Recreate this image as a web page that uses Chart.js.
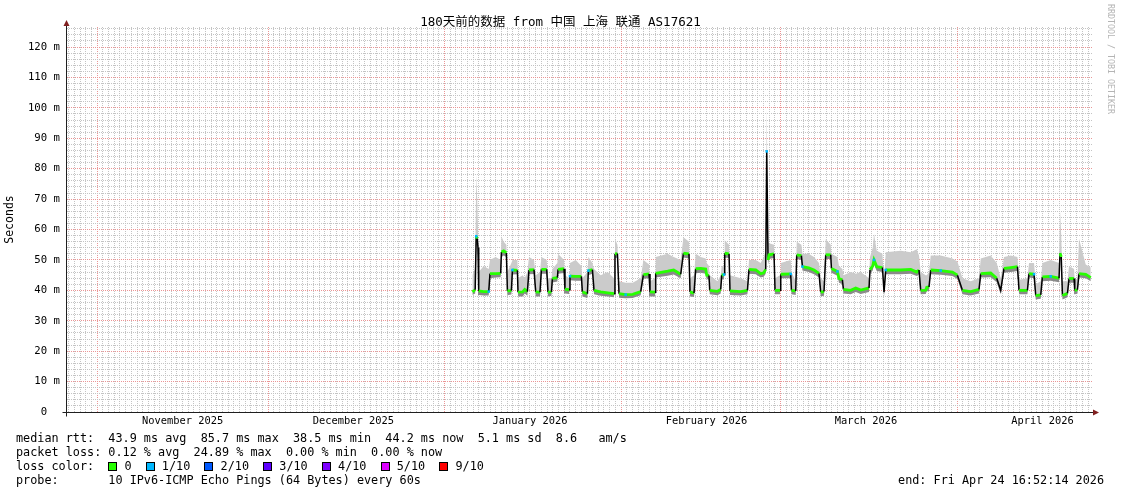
<!DOCTYPE html>
<html>
<head>
<meta charset="utf-8">
<script src="https://cdn.jsdelivr.net/npm/chart.js@4/dist/chart.umd.min.js"></script>
<style>
  html, body { margin: 0; padding: 0; background: #fff; }
  #wrap { position: relative; width: 1121px; height: 494px; overflow: hidden; }
  #chart { position: absolute; left: 0; top: 0; }
  .txt {
    position: absolute; left: 16px; white-space: pre;
    font-family: 'DejaVu Sans Mono', monospace; font-size: 11.8px; line-height: 14px; color: #000;
  }
  .box {
    display: inline-block; width: 7px; height: 7px; border: 1px solid #000;
    vertical-align: -1px;
  }
  #brand {
    position: absolute; left: 1106px; top: 4px; writing-mode: vertical-rl;
    font-family: 'DejaVu Sans Mono', monospace; font-size: 8.3px; color: #b4b4b4; white-space: pre;
  }
</style>
</head>
<body>
<div id="wrap">
  <canvas id="chart" width="1121" height="494"></canvas>
  <div id="brand">RRDTOOL / TOBI OETIKER</div>
  <div class="txt" style="top:431px">median rtt:  43.9 ms avg  85.7 ms max  38.5 ms min  44.2 ms now  5.1 ms sd  8.6   am/s</div>
  <div class="txt" style="top:445px">packet loss: 0.12 % avg  24.89 % max  0.00 % min  0.00 % now</div>
  <div class="txt" id="losscolors" style="top:459px">loss color:  </div>
  <div class="txt" style="top:473px">probe:       10 IPv6-ICMP Echo Pings (64 Bytes) every 60s</div>
  <div class="txt" style="top:473px; left:auto; right:17px">end: Fri Apr 24 16:52:14 2026</div>
</div>
<script>
// x axis unit: days since 2025-11-01 00:00, window = 180 days ending Apr 24 16:52
const X_MIN = -5.3;
const X_MAX = 174.7;
const Y_MAX = 126.6;

const MONTH_STARTS = [0, 30, 61, 92, 120, 151];
const MONTH_MIDS   = [15, 45, 76, 107, 135, 166];
const MONTH_LABELS = ['November 2025', 'December 2025', 'January 2026', 'February 2026', 'March 2026', 'April 2026'];

const LOSS_LABELS = ['0', '1/10', '2/10', '3/10', '4/10', '5/10', '9/10'];
const LOSS_COLORS = ['#26ff00', '#00b8ff', '#0059ff', '#5e00ff', '#7e00ff', '#dd00ff', '#ff0000'];

// (ms)
const DAYS = [
  65.89, 66.38, 66.56, 66.74, 66.88, 67.00, 67.88, 68.76, 68.98, 69.98,
  70.86, 70.99, 71.39, 71.86, 72.04, 72.74, 72.92, 73.80, 73.90, 74.73,
  75.08, 75.55, 75.83, 76.71, 77.01, 77.76, 78.01, 78.94, 79.17, 79.77,
  79.94, 80.82, 80.93, 81.98, 82.15, 82.86, 83.03, 84.03, 85.03, 85.21,
  86.09, 86.26, 86.97, 87.25, 88.42, 89.65, 90.76, 90.93, 91.36, 91.64,
  92.81, 94.04, 95.45, 95.92, 96.91, 97.08, 97.96, 98.08, 100.19, 101.24,
  102.47, 102.95, 103.93, 104.11, 104.81, 105.11, 105.99, 106.86, 107.04, 107.44,
  107.57, 108.92, 109.50, 109.67, 110.08, 110.20, 110.96, 111.13, 113.01, 114.19,
  114.47, 115.65, 116.52, 117.05, 117.40, 117.58, 117.81, 117.98, 118.86, 119.04,
  119.91, 120.04, 121.79, 121.92, 122.67, 122.85, 123.67, 123.85, 124.95, 125.88,
  126.76, 127.06, 127.64, 127.94, 128.82, 128.94, 129.99, 130.27, 130.87, 131.05,
  132.33, 133.21, 134.09, 135.54, 135.72, 136.19, 136.42, 136.90, 137.90, 138.18,
  138.48, 141.11, 142.87, 143.92, 144.32, 144.62, 145.50, 145.68, 146.08, 146.38,
  148.13, 150.19, 151.07, 151.95, 153.40, 154.86, 155.16, 156.91, 157.97, 158.67,
  159.25, 160.43, 161.61, 161.89, 163.36, 163.64, 164.52, 164.82, 165.70, 165.99,
  167.45, 168.91, 169.09, 169.30, 169.51, 170.39, 170.67, 171.55, 171.67, 172.14,
  172.42, 173.60, 174.48
];
const MEDIAN = [
  39.5, 40.2, 57.8, 57.0, 54.0, 39.8, 39.6, 39.6, 45.5, 45.5,
  45.6, 52.6, 53.0, 52.3, 39.8, 39.9, 46.7, 46.6, 39.4, 39.5,
  40.3, 39.6, 46.7, 46.8, 39.5, 39.4, 46.9, 46.9, 39.4, 39.5,
  43.9, 44.2, 46.9, 47.1, 40.4, 40.2, 44.7, 44.6, 44.6, 39.5,
  38.9, 46.5, 46.8, 40.0, 39.5, 39.2, 38.9, 52.0, 52.1, 38.9,
  38.6, 38.7, 39.6, 45.2, 45.4, 39.5, 39.4, 45.6, 46.3, 46.7,
  45.3, 52.2, 52.0, 39.5, 39.1, 47.1, 47.2, 47.0, 45.0, 44.9,
  40.0, 39.7, 40.3, 45.0, 45.2, 52.2, 52.0, 39.8, 39.6, 40.0,
  46.9, 46.7, 45.5, 45.8, 46.9, 85.7, 50.0, 51.7, 52.0, 40.0,
  40.0, 45.3, 45.4, 40.0, 39.8, 51.7, 51.4, 47.8, 47.4, 46.7,
  45.6, 39.4, 39.6, 51.7, 51.7, 47.2, 46.2, 43.9, 43.5, 40.3,
  40.0, 40.8, 40.1, 40.8, 46.8, 48.0, 50.0, 47.8, 47.5, 39.4,
  46.7, 46.7, 46.9, 46.0, 46.7, 40.0, 40.1, 41.0, 41.1, 46.7,
  46.5, 46.0, 45.0, 40.0, 39.6, 40.3, 45.5, 45.7, 44.0, 40.0,
  47.2, 47.5, 47.8, 40.0, 40.0, 45.5, 45.3, 38.3, 38.5, 44.4,
  44.6, 44.0, 52.2, 51.0, 38.3, 39.0, 43.9, 43.9, 40.0, 40.2,
  45.5, 45.3, 44.2
];
const SMOKE_HI = [
  45, 47, 78, 70, 60, 46, 48, 47, 50, 51,
  50, 57.8, 56, 55, 46, 49, 50, 50, 44, 45,
  44, 46, 51, 50, 45, 46, 51, 50, 44, 44,
  47, 49, 52, 50, 45, 44, 49, 50, 48, 44,
  46, 51, 49, 47, 45, 46, 44, 57, 55, 43,
  42.5, 42.5, 44, 50, 48.5, 43, 44, 51, 52, 51,
  50, 57.5, 56, 44, 45, 52, 51, 50.5, 49, 48,
  45, 43, 45, 48, 48, 56.5, 55, 45, 44, 43,
  50, 50, 49, 51, 53, 100, 56, 55.5, 55, 44,
  45, 49, 50, 46, 43, 56, 55, 52, 52, 51,
  49, 44, 43, 56.8, 55, 52, 51, 48, 47, 45,
  46, 45.5, 46, 44, 51, 54, 58.5, 53, 52, 43,
  52.5, 53, 52.5, 53.5, 51.5, 46, 45, 45, 46, 51.5,
  51.5, 50.5, 49.5, 44, 43, 44, 50.5, 51.5, 49, 44,
  51, 51.5, 51, 43.5, 44, 49, 49, 42, 43, 49,
  50, 49, 66, 58, 43, 43, 48, 47, 43, 44,
  57, 48.5, 47.5
];
const SMOKE_LO = [
  38.5, 39, 55, 54, 50, 38.5, 38.3, 38.3, 44, 44.2,
  44.3, 51, 51.5, 51, 38.4, 38.6, 45.2, 45.3, 38, 38,
  39, 38.2, 45.3, 45.4, 38, 38, 45.5, 45.5, 38, 38.2,
  42.6, 42.9, 45.5, 45.7, 39, 38.8, 43.3, 43.2, 43.2, 38,
  37.5, 45, 45.5, 38.7, 38.2, 38, 37.7, 50.5, 50.8, 37.6,
  37.4, 37.5, 38.4, 43.8, 44, 38, 38, 44.2, 44.8, 45.2,
  44, 50.8, 50.5, 38, 37.8, 45.6, 45.8, 45.5, 43.7, 43.5,
  38.7, 38.4, 39, 43.5, 43.8, 50.8, 50.6, 38.5, 38.3, 38.7,
  45.5, 45.3, 44.2, 44.5, 45.5, 60, 48.5, 50.3, 50.6, 38.7,
  38.7, 44, 44, 38.7, 38.5, 50.3, 50, 46.5, 46, 45.3,
  44.2, 38, 38.2, 50.3, 50.3, 45.8, 44.8, 42.5, 42, 39,
  38.7, 39.5, 38.8, 39.5, 45.4, 46.5, 48.5, 46.4, 46, 38,
  45.3, 45.3, 45.5, 44.7, 45.3, 38.7, 38.8, 39.7, 39.8, 45.3,
  45.1, 44.7, 43.7, 38.7, 38.3, 39, 44.2, 44.3, 42.7, 38.7,
  45.8, 46, 46.4, 38.7, 38.7, 44.2, 44, 37, 37.2, 43,
  43.2, 42.7, 50.5, 49.5, 37, 37.7, 42.5, 42.5, 38.7, 38.9,
  44.2, 44, 43
];
// 1 = some packet loss (1/10) at that sample
const LOSS = [
  0, 0, 1, 0, 0, 0, 0, 1, 0, 0,
  0, 0, 0, 0, 0, 0, 1, 0, 0, 0,
  0, 0, 0, 0, 0, 0, 0, 0, 0, 0,
  0, 0, 0, 0, 0, 0, 1, 0, 0, 0,
  0, 1, 0, 0, 0, 0, 0, 0, 0, 0,
  1, 0, 0, 0, 0, 0, 0, 0, 0, 0,
  0, 0, 0, 0, 0, 0, 0, 0, 0, 0,
  0, 0, 0, 0, 1, 0, 0, 0, 0, 0,
  0, 0, 0, 0, 0, 1, 0, 0, 0, 0,
  0, 0, 1, 0, 0, 0, 0, 1, 0, 0,
  0, 0, 0, 0, 0, 0, 1, 0, 0, 0,
  0, 0, 0, 0, 0, 0, 1, 0, 0, 0,
  1, 0, 0, 0, 0, 0, 0, 0, 0, 0,
  1, 0, 0, 0, 0, 0, 0, 0, 0, 0,
  0, 0, 0, 0, 0, 0, 1, 0, 0, 0,
  1, 0, 0, 0, 0, 0, 0, 0, 0, 0,
  0, 0, 0
];

// loss colour legend row
const lossRow = document.getElementById('losscolors');
LOSS_LABELS.forEach((lbl, i) => {
    const b = document.createElement('span');
    b.className = 'box';
    b.style.background = LOSS_COLORS[i];
    lossRow.appendChild(b);
    lossRow.appendChild(document.createTextNode(' ' + lbl + '  '));
});

const MONO = "'DejaVu Sans Mono', 'Noto Sans CJK SC', monospace";
// rrdtool default grid / major grid colours, flattened on white
const MINOR = '#c4c4c4';
const MAJOR = '#eb9595';
const pts = arr => DAYS.map((d, i) => ({ x: d, y: arr[i] }));
const jump = c => Math.abs(c.p1.parsed.y - c.p0.parsed.y) > 2.5;
const isMonthStart = c => c.type === 'tick' && MONTH_STARTS.includes(c.tick.value);
const isTen = c => c.type === 'tick' && c.tick.value % 10 === 0;

// axis lines running a little past the plot, with rrdtool style arrow heads
const axisArrows = {
    id: 'axisArrows',
    afterDraw(chart) {
        const { ctx, chartArea: a } = chart;
        const x0 = Math.round(a.left) - 0.5, y0 = Math.round(a.bottom) + 0.5;
        ctx.save();
        ctx.strokeStyle = '#1f1f1f';
        ctx.lineWidth = 1;
        ctx.beginPath();
        ctx.moveTo(x0 - 4, y0); ctx.lineTo(a.right + 3, y0);
        ctx.moveTo(x0, y0 + 4); ctx.lineTo(x0, a.top - 3);
        ctx.stroke();
        ctx.fillStyle = '#801f1f';
        ctx.beginPath();
        ctx.moveTo(x0, a.top - 7); ctx.lineTo(x0 - 3, a.top - 1); ctx.lineTo(x0 + 3, a.top - 1);
        ctx.closePath(); ctx.fill();
        ctx.beginPath();
        ctx.moveTo(a.right + 7, y0); ctx.lineTo(a.right + 1, y0 - 3); ctx.lineTo(a.right + 1, y0 + 3);
        ctx.closePath(); ctx.fill();
        ctx.restore();
    }
};

new Chart(document.getElementById('chart').getContext('2d'), {
    type: 'line',
    data: {
        datasets: [
            { data: pts(SMOKE_LO), borderWidth: 0, pointRadius: 0, fill: false, order: 5 },
            { data: pts(MEDIAN),   borderWidth: 0, pointRadius: 0, fill: 0, backgroundColor: '#8a8a8a', order: 4 },
            { data: pts(SMOKE_HI), borderWidth: 0, pointRadius: 0, fill: 1, backgroundColor: '#cbcbcb', order: 3 },
            {
                data: pts(MEDIAN), fill: false, order: 1,
                borderColor: '#26ff00', borderWidth: 3,
                segment: {
                    borderColor: c => jump(c) ? '#000' : '#26ff00',
                    borderWidth: c => jump(c) ? 1.5 : 2.8
                },
                pointStyle: 'rect',
                pointRadius: c => LOSS[c.dataIndex] ? 1.8 : 0,
                pointBackgroundColor: LOSS_COLORS[1],
                pointBorderWidth: 0
            }
        ]
    },
    options: {
        responsive: false, animation: false, events: [],
        // equal side padding keeps the title centred on the canvas
        layout: { padding: { left: 29, right: 29, top: 0, bottom: 0 } },
        elements: { line: { tension: 0 } },
        plugins: {
            legend: { display: false },
            tooltip: { enabled: false },
            title: {
                display: true,
                text: '180天前的数据 from 中国 上海 联通 AS17621',
                color: '#000',
                font: { family: MONO, size: 12.5, weight: 'normal', lineHeight: 1 },
                padding: { top: 16, bottom: -1.5 }
            }
        },
        scales: {
            x: {
                type: 'linear', min: X_MIN, max: X_MAX,
                afterFit: s => { s.height = 82; },
                afterBuildTicks: s => {
                    const t = [];
                    for (let d = Math.ceil(X_MIN); d <= X_MAX; d++) t.push({ value: d });
                    s.ticks = t;
                },
                grid: {
                    drawTicks: false,
                    color: c => isMonthStart(c) ? MAJOR : MINOR
                },
                border: { display: false, dash: [1, 1] },
                ticks: {
                    autoSkip: false, maxRotation: 0, minRotation: 0, padding: 3,
                    color: '#000', font: { family: MONO, size: 10.4 },
                    callback: v => {
                        const i = MONTH_MIDS.indexOf(v);
                        return i >= 0 ? MONTH_LABELS[i] : '';
                    }
                }
            },
            y: {
                min: 0, max: Y_MAX,
                afterFit: s => { s.width = 38; },
                afterBuildTicks: s => {
                    const t = [];
                    for (let v = 0; v <= Y_MAX; v += 2) t.push({ value: v });
                    s.ticks = t;
                },
                grid: {
                    drawTicks: false,
                    color: c => isTen(c) ? MAJOR : MINOR
                },
                border: { display: false, dash: [1, 1] },
                title: {
                    display: true, text: 'Seconds', color: '#000',
                    font: { family: MONO, size: 11.5 }, padding: { top: -26, bottom: 0 }
                },
                ticks: {
                    autoSkip: false, padding: 7, color: '#000',
                    font: { family: MONO, size: 10.67 },
                    callback: v => v % 10 !== 0 ? '' : (v === 0 ? '0  ' : v + ' m')
                }
            }
        }
    },
    plugins: [axisArrows]
});
</script>
</body>
</html>
